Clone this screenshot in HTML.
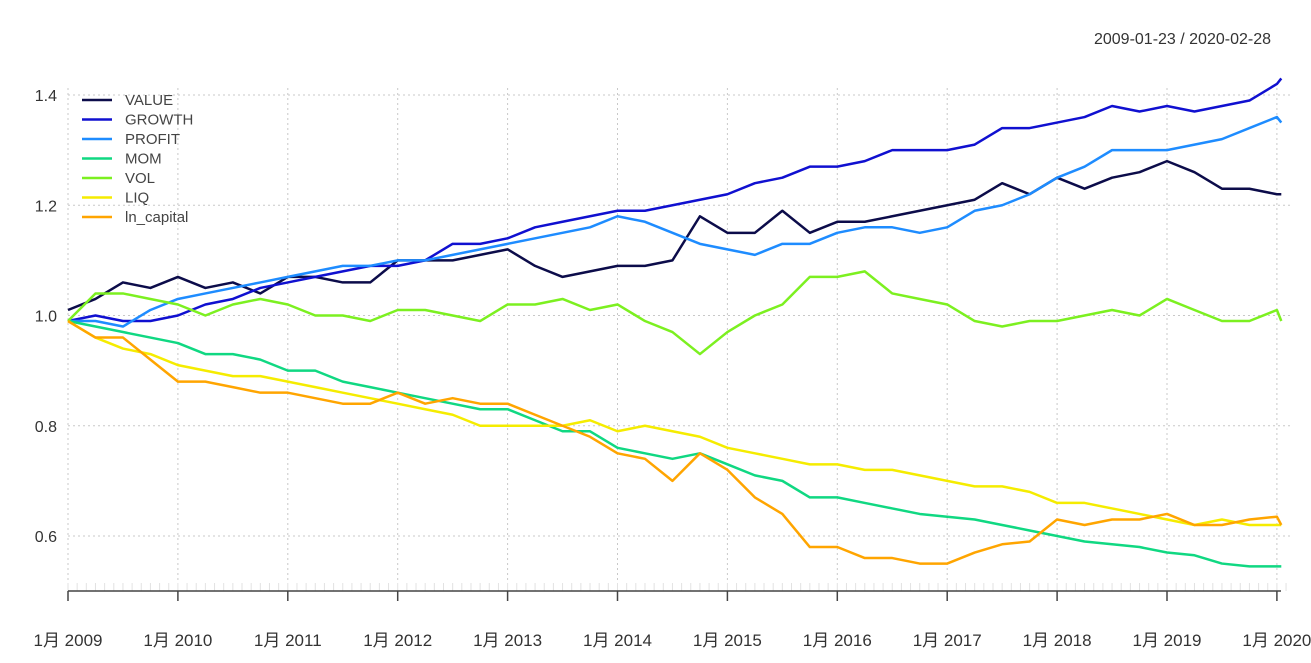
<!DOCTYPE html>
<html><head><meta charset="utf-8"><style>
html,body{margin:0;padding:0;background:#fff;}
svg{display:block;font-family:"Liberation Sans","Noto Sans CJK SC",sans-serif;}
</style></head><body>
<svg id="chart" width="1311" height="663">
<text x="1271" y="44" text-anchor="end" font-size="16" fill="#333">2009-01-23 / 2020-02-28</text>
<g id="grid"></g><g id="axes"></g><g id="series"></g><g id="legend"></g>
</svg>
<script>
const times=[0,0.25,0.5,0.75,1,1.25,1.5,1.75,2,2.25,2.5,2.75,3,3.25,3.5,3.75,4,4.25,4.5,4.75,5,5.25,5.5,5.75,6,6.25,6.5,6.75,7,7.25,7.5,7.75,8,8.25,8.5,8.75,9,9.25,9.5,9.75,10,10.25,10.5,10.75,11,11.04];
const VALUE=[1.01,1.03,1.06,1.05,1.07,1.05,1.06,1.04,1.07,1.07,1.06,1.06,1.10,1.10,1.10,1.11,1.12,1.09,1.07,1.08,1.09,1.09,1.10,1.18,1.15,1.15,1.19,1.15,1.17,1.17,1.18,1.19,1.20,1.21,1.24,1.22,1.25,1.23,1.25,1.26,1.28,1.26,1.23,1.23,1.22,1.22];
const GROWTH=[0.99,1.0,0.99,0.99,1.0,1.02,1.03,1.05,1.06,1.07,1.08,1.09,1.09,1.10,1.13,1.13,1.14,1.16,1.17,1.18,1.19,1.19,1.20,1.21,1.22,1.24,1.25,1.27,1.27,1.28,1.30,1.30,1.30,1.31,1.34,1.34,1.35,1.36,1.38,1.37,1.38,1.37,1.38,1.39,1.42,1.43];
const PROFIT=[0.99,0.99,0.98,1.01,1.03,1.04,1.05,1.06,1.07,1.08,1.09,1.09,1.10,1.10,1.11,1.12,1.13,1.14,1.15,1.16,1.18,1.17,1.15,1.13,1.12,1.11,1.13,1.13,1.15,1.16,1.16,1.15,1.16,1.19,1.20,1.22,1.25,1.27,1.30,1.30,1.30,1.31,1.32,1.34,1.36,1.35];
const MOM=[0.99,0.98,0.97,0.96,0.95,0.93,0.93,0.92,0.90,0.90,0.88,0.87,0.86,0.85,0.84,0.83,0.83,0.81,0.79,0.79,0.76,0.75,0.74,0.75,0.73,0.71,0.70,0.67,0.67,0.66,0.65,0.64,0.635,0.63,0.62,0.61,0.60,0.59,0.585,0.58,0.57,0.565,0.55,0.545,0.545,0.545];
const VOL=[0.99,1.04,1.04,1.03,1.02,1.00,1.02,1.03,1.02,1.00,1.00,0.99,1.01,1.01,1.00,0.99,1.02,1.02,1.03,1.01,1.02,0.99,0.97,0.93,0.97,1.00,1.02,1.07,1.07,1.08,1.04,1.03,1.02,0.99,0.98,0.99,0.99,1.00,1.01,1.00,1.03,1.01,0.99,0.99,1.01,0.99];
const LIQ=[0.99,0.96,0.94,0.93,0.91,0.90,0.89,0.89,0.88,0.87,0.86,0.85,0.84,0.83,0.82,0.80,0.80,0.80,0.80,0.81,0.79,0.80,0.79,0.78,0.76,0.75,0.74,0.73,0.73,0.72,0.72,0.71,0.70,0.69,0.69,0.68,0.66,0.66,0.65,0.64,0.63,0.62,0.63,0.62,0.62,0.62];
const LNCAP=[0.99,0.96,0.96,0.92,0.88,0.88,0.87,0.86,0.86,0.85,0.84,0.84,0.86,0.84,0.85,0.84,0.84,0.82,0.80,0.78,0.75,0.74,0.70,0.75,0.72,0.67,0.64,0.58,0.58,0.56,0.56,0.55,0.55,0.57,0.585,0.59,0.63,0.62,0.63,0.63,0.64,0.62,0.62,0.63,0.635,0.62];
const seriesNames=["VALUE","GROWTH","PROFIT","MOM","VOL","LIQ","ln_capital"];
const yTicks=[0.6,0.8,1.0,1.2,1.4];
const xTickLabels=["1月 2009","1月 2010","1月 2011","1月 2012","1月 2013","1月 2014","1月 2015","1月 2016","1月 2017","1月 2018","1月 2019","1月 2020"];
const colors=["#0c0c4a","#1010d0","#1e8cff","#10d882","#7cf020","#f5ec00","#ffa500"];
const all=[VALUE,GROWTH,PROFIT,MOM,VOL,LIQ,LNCAP];
const NS="http://www.w3.org/2000/svg";
const X=t=>68+109.9*t, Y=v=>95+(1.4-v)*551.25;
function mk(tag,attrs,parent){const e=document.createElementNS(NS,tag);for(const k in attrs)e.setAttribute(k,attrs[k]);parent.appendChild(e);return e;}
const grid=document.getElementById('grid'),axes=document.getElementById('axes'),ser=document.getElementById('series'),leg=document.getElementById('legend');
yTicks.forEach(v=>{
 const l=mk('line',{x1:68,x2:1290,y1:Y(v),y2:Y(v),stroke:'#c8c8c8','stroke-dasharray':'2,3'},grid);
 
 
 const t=mk('text',{x:57,y:Y(v)+6,'text-anchor':'end','font-size':16,fill:'#333'},axes);
 t.textContent=v.toFixed(1);
 
 
});
xTickLabels.forEach((s,i)=>{
 const x=X(i);
 const g=mk('line',{x1:x,x2:x,y1:88,y2:582,stroke:'#c8c8c8','stroke-dasharray':'2,3'},grid);
 
 
 const tk=mk('line',{x1:x,x2:x,y1:591,y2:601,stroke:'#444','stroke-width':1.5},axes);
 
 
 const t=mk('text',{x:x,y:646,'text-anchor':'middle','font-size':17,fill:'#333'},axes);
 t.textContent=s;
 
 
});
for(let m=0;m<=133;m++){const x=68+m*109.9/12;const e=mk('line',{x1:x,x2:x,y1:583,y2:591,stroke:'#e2e2e2'},axes);
 
 }
const ax=mk('line',{x1:68,x2:1281,y1:591,y2:591,stroke:'#444','stroke-width':1.5},axes);


all.forEach((arr,k)=>{
 const p=mk('polyline',{points:arr.map((v,i)=>X(times[i])+','+Y(v)).join(' '),fill:'none',stroke:colors[k],'stroke-width':2.5,'stroke-linejoin':'round'},ser);
 
 
 const y=100+k*19.5;
 const l=mk('line',{x1:82,x2:112,y1:y,y2:y,stroke:colors[k],'stroke-width':2.5},leg);
 
 
 const t=mk('text',{x:125,y:y+5,'font-size':15,fill:'#444'},leg);
 t.textContent=seriesNames[k];
 
 
});
</script>
</body></html>
